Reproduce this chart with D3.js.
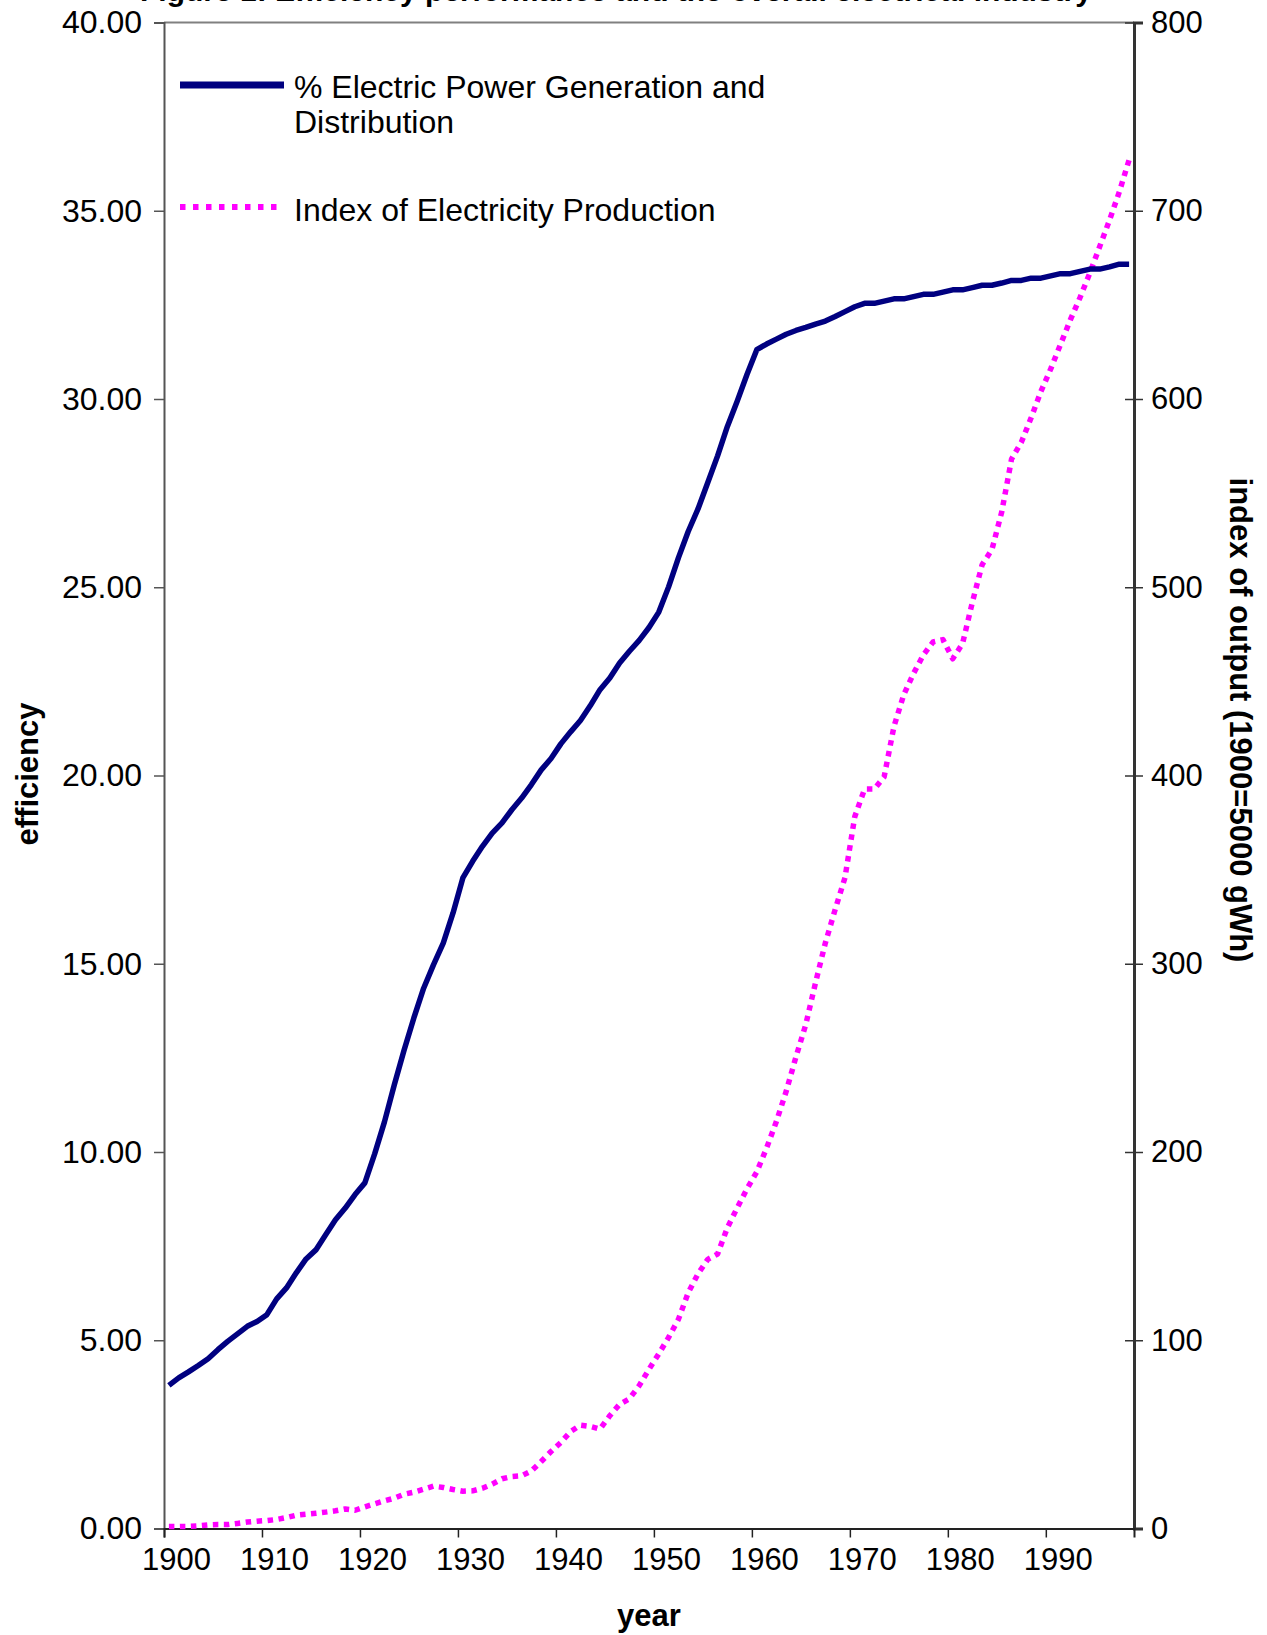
<!DOCTYPE html>
<html>
<head>
<meta charset="utf-8">
<script src="https://cdn.jsdelivr.net/npm/d3@7"></script>
<style>
  html, body { margin: 0; padding: 0; background: #ffffff; }
  svg { display: block; }
  text { font-family: "Liberation Sans", Arial, sans-serif; }
</style>
</head>
<body>
<svg id="chart" width="1267" height="1635"></svg>
<script>
// ---------- data ----------
const firstYear = 1900;
const efficiency = [
  3.80, 4.00, 4.16, 4.33, 4.51, 4.75, 4.97, 5.17, 5.37, 5.50,
  5.68, 6.10, 6.39, 6.79, 7.16, 7.40, 7.80, 8.20, 8.51, 8.87,
  9.18, 9.95, 10.80, 11.78, 12.70, 13.56, 14.35, 14.97, 15.55, 16.35,
  17.28, 17.72, 18.12, 18.47, 18.74, 19.09, 19.40, 19.76, 20.15, 20.45,
  20.84, 21.16, 21.46, 21.85, 22.28, 22.59, 22.99, 23.30, 23.59, 23.93,
  24.34, 25.01, 25.78, 26.48, 27.08, 27.78, 28.49, 29.27, 29.94, 30.65,
  31.31, 31.46, 31.59, 31.72, 31.82, 31.90, 31.99, 32.07, 32.19, 32.32,
  32.45, 32.54, 32.54, 32.60, 32.66, 32.66, 32.72, 32.78, 32.78, 32.84,
  32.90, 32.90, 32.96, 33.02, 33.02, 33.08, 33.15, 33.15, 33.21, 33.21,
  33.27, 33.33, 33.33, 33.39, 33.45, 33.45, 33.51, 33.58, 33.58
];
const production = [
  1.0, 1.0, 1.1, 1.4, 1.9, 2.1, 2.1, 2.7, 3.4, 3.9,
  4.2, 4.8, 5.8, 7.1, 7.6, 8.1, 8.7, 9.4, 10.4, 9.7,
  11.5, 13.1, 14.7, 16.1, 18.2, 19.3, 20.9, 22.5, 21.8, 20.7,
  19.8, 20.0, 21.4, 23.6, 26.4, 27.6, 28.0, 30.6, 35.6, 40.9,
  45.7, 51.5, 54.9, 54.2, 52.8, 59.9, 66.0, 68.9, 75.9, 84.6,
  92.8, 101.5, 111.1, 125.2, 135.3, 143.0, 145.8, 159.8, 170.3, 180.4,
  189.4, 202.1, 216.2, 232.2, 250.5, 267.7, 290.0, 311.1, 328.8, 345.7,
  378.1, 392.8, 392.8, 399.3, 426.0, 442.9, 454.2, 464.0, 471.0, 472.2,
  462.0, 470.0, 492.0, 512.0, 520.0, 540.0, 568.0, 577.0, 590.0, 604.0,
  616.0, 629.0, 642.0, 654.0, 667.0, 681.0, 695.0, 710.0, 727.0
];
const years = efficiency.map((_, i) => firstYear + i);
const xTickYears = [1900, 1910, 1920, 1930, 1940, 1950, 1960, 1970, 1980, 1990];
const leftTicks = [0, 5, 10, 15, 20, 25, 30, 35, 40];
const rightTicks = [0, 100, 200, 300, 400, 500, 600, 700, 800];
const seriesNames = ["% Electric Power Generation and", "Distribution", "Index of Electricity Production"];
const titleText = "Figure 1: Efficiency performance and the overall electrical industry";
const xTitle = "year";
const yLeftTitle = "efficiency";
const yRightTitle = "index of output (1900=5000 gWh)";

// ---------- layout ----------
const L = 164, R = 1134, T = 22.5, B = 1528.5;
const svg = d3.select("#chart");

const x = d3.scaleLinear().domain([firstYear, firstYear + years.length]).range([L, R]);
const yL = d3.scaleLinear().domain([0, 40]).range([B, T]);
const yR = d3.scaleLinear().domain([0, 800]).range([B, T]);

// title: clipped by the top edge in the original, only descenders visible
svg.append("text")
  .attr("x", 140).attr("y", 0.5)
  .attr("font-size", 30).attr("font-weight", "bold")
  .text(titleText);

// plot border (top)
svg.append("line").attr("x1", L).attr("x2", R).attr("y1", T).attr("y2", T)
  .attr("stroke", "#808080").attr("stroke-width", 2);

// left axis
const gL = svg.append("g").attr("transform", `translate(${L},0)`)
  .call(d3.axisLeft(yL).tickValues(leftTicks).tickFormat(d3.format(".2f")).tickSize(10).tickPadding(12));
gL.select(".domain").attr("stroke", "#555").attr("stroke-width", 2);
gL.selectAll(".tick line").attr("stroke", "#555").attr("stroke-width", 1.5);
gL.selectAll(".tick text").attr("font-size", 32).attr("fill", "#000")
  .attr("font-family", "Liberation Sans, Arial, sans-serif");

// right axis
const gR = svg.append("g").attr("transform", `translate(${R},0)`)
  .call(d3.axisRight(yR).tickValues(rightTicks).tickFormat(d3.format("d")).tickSize(9).tickPadding(8));
gR.select(".domain").attr("stroke", "#333").attr("stroke-width", 3);
gR.selectAll(".tick line").attr("stroke", "#333").attr("stroke-width", 1.5).attr("x1", -9);
gR.selectAll(".tick text").attr("font-size", 31).attr("fill", "#000")
  .attr("font-family", "Liberation Sans, Arial, sans-serif");

// bottom axis
const gB = svg.append("g").attr("transform", `translate(0,${B})`)
  .call(d3.axisBottom(x).tickValues(xTickYears).tickFormat(d3.format("d")).tickSize(9).tickPadding(10));
gB.select(".domain").attr("stroke", "#222").attr("stroke-width", 2);
gB.selectAll(".tick line").attr("stroke", "#222").attr("stroke-width", 1.5);
gB.selectAll(".tick text").attr("font-size", 31).attr("fill", "#000")
  .attr("dx", 12)
  .attr("font-family", "Liberation Sans, Arial, sans-serif");

// axis titles
svg.append("text").attr("x", 649).attr("y", 1626).attr("text-anchor", "middle")
  .attr("font-size", 31).attr("font-weight", "bold").text(xTitle);
svg.append("text").attr("transform", "translate(38,774) rotate(-90)")
  .attr("text-anchor", "middle").attr("font-size", 31).attr("font-weight", "bold").text(yLeftTitle);
svg.append("text").attr("transform", "translate(1230,720) rotate(90)")
  .attr("text-anchor", "middle").attr("font-size", 31).attr("font-weight", "bold").text(yRightTitle);

// lines
const lineL = d3.line().x((d, i) => x(years[i] + 0.5)).y(d => yL(d));
const lineR = d3.line().x((d, i) => x(years[i] + 0.5)).y(d => yR(d));

svg.append("path").datum(production).attr("d", lineR)
  .attr("fill", "none").attr("stroke", "#FF00FF").attr("stroke-width", 5.5)
  .attr("stroke-dasharray", "5.5,5.5").attr("stroke-linejoin", "round");
svg.append("path").datum(efficiency).attr("d", lineL)
  .attr("fill", "none").attr("stroke", "#000080").attr("stroke-width", 5.5)
  .attr("stroke-linejoin", "round");

// legend
const lg = svg.append("g");
lg.append("line").attr("x1", 180).attr("x2", 284).attr("y1", 85).attr("y2", 85)
  .attr("stroke", "#000080").attr("stroke-width", 7);
lg.append("text").attr("x", 294).attr("y", 98).attr("font-size", 32).text(seriesNames[0]);
lg.append("text").attr("x", 294).attr("y", 132.5).attr("font-size", 32).text(seriesNames[1]);
lg.append("line").attr("x1", 180).attr("x2", 284).attr("y1", 207).attr("y2", 207)
  .attr("stroke", "#FF00FF").attr("stroke-width", 6).attr("stroke-dasharray", "5.5,7.5");
lg.append("text").attr("x", 294).attr("y", 221).attr("font-size", 32).text(seriesNames[2]);
</script>
</body>
</html>
